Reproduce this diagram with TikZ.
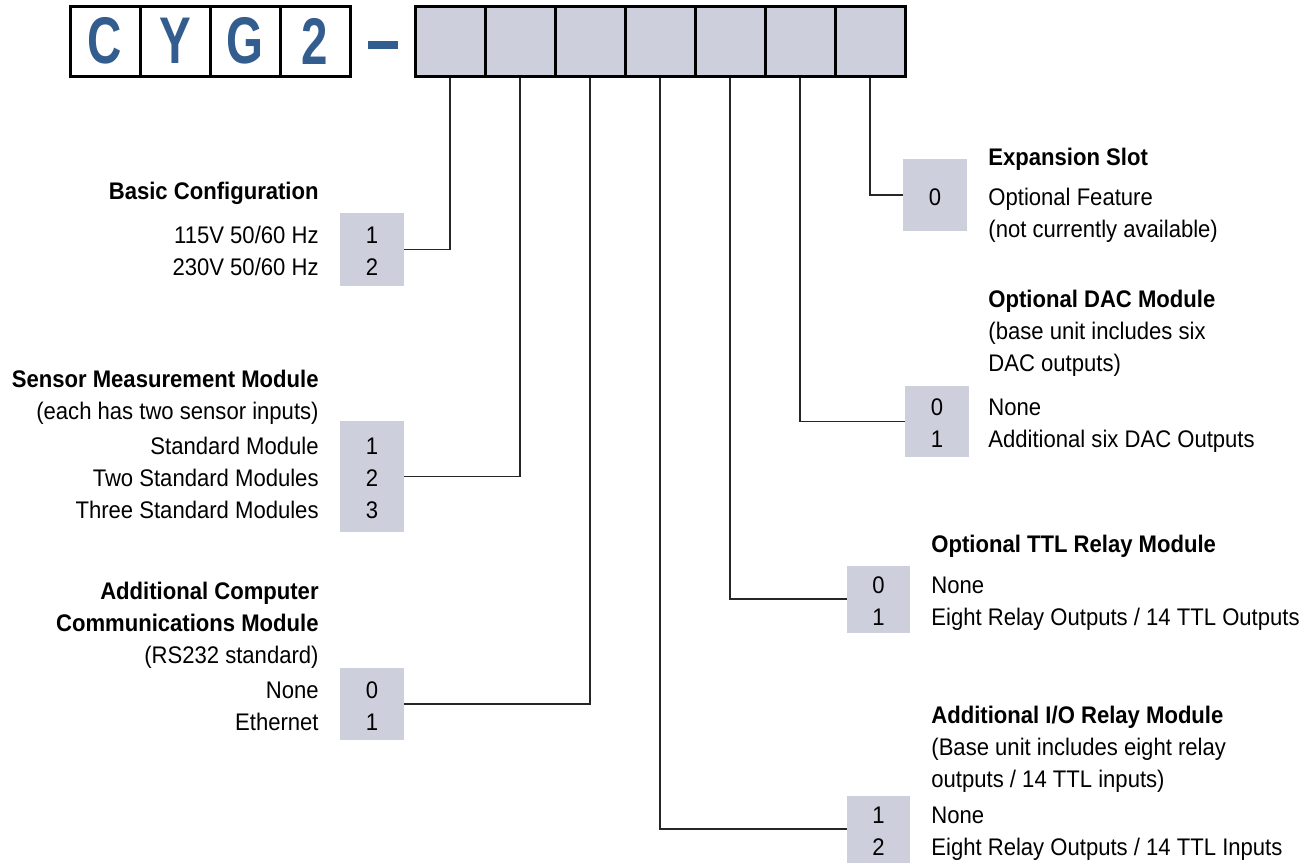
\documentclass[tikz,border=0pt]{standalone}
\usepackage{fontspec}
\setmainfont{Liberation Sans}[FakeStretch=0.92]
\newfontfamily\codefont{Liberation Sans}[FakeStretch=0.72]
\newcommand{\txtsize}{\fontsize{24}{32}\selectfont}
\newcommand{\lstrut}{\rule[-6pt]{0pt}{32pt}}
\newcommand{\mtitle}[1]{{\bfseries #1}}
\definecolor{BLUE}{HTML}{335C8F}
\definecolor{SLATE}{HTML}{CDD0DC}
\usetikzlibrary{positioning,calc}

\begin{document}
\begin{tikzpicture}
[x=1pt, y=-1pt, font=\txtsize,
letter/.style={rectangle, draw=black, line width=3pt, fill=white, minimum size=70pt,
inner sep=0pt, text=BLUE, font=\codefont\fontsize{66}{66}\selectfont\bfseries},
slot/.style={rectangle, draw=black, line width=3pt, fill=SLATE, minimum size=70pt, inner sep=0pt},
optbox/.style={rectangle, fill=SLATE, minimum width=64pt, inner sep=0pt, align=center,
execute at end node=\lstrut},
opttext/.style={inner sep=0pt, execute at end node=\lstrut},
link/.style={line width=1.2pt, black!85}]
\useasboundingbox (0,0) rectangle (1311,863);

\foreach \ch [count=\i] in {C,Y,G,2}
  \node[letter] (c\i) at (35+70*\i,41) {\ch};
\node[fill=BLUE, minimum width=30pt, minimum height=8pt, inner sep=0pt] (dash) at (382.5,44.5) {};
\foreach \i in {1,...,7}
  \node[slot] (s\i) at (380+70*\i,41) {};

\node[optbox, minimum height=73pt] (bopt) at (372,249.5) {\lstrut 1\\2};
\node[opttext, align=right, left=21pt of bopt] (btxt) {\lstrut 115V 50/60 Hz\\230V 50/60 Hz};
\node[opttext, align=right, above=12pt of btxt.north east, anchor=south east] (bhead)
  {\lstrut\mtitle{Basic Configuration}};

\node[optbox, minimum height=111pt] (sopt) at (372,476.5) {\lstrut 1\\2\\3};
\node[opttext, align=right, left=21pt of sopt] (stxt)
  {\lstrut Standard Module\\Two Standard Modules\\Three Standard Modules};
\node[opttext, align=right, above=3pt of stxt.north east, anchor=south east] (shead)
  {\lstrut\mtitle{Sensor Measurement Module}\\(each has two sensor inputs)};

\node[optbox, minimum height=72pt] (copt) at (372,704) {\lstrut 0\\1};
\node[opttext, align=right, left=21pt of copt] (ctxt) {\lstrut None\\Ethernet};
\node[opttext, align=right, above=2pt of ctxt.north east, anchor=south east] (chead)
  {\lstrut\mtitle{Additional Computer}\\\mtitle{Communications Module}\\(RS232 standard)};

\node[optbox, minimum height=72pt] (xopt) at (935,195) {\lstrut 0};
\node[opttext, align=left, right=21pt of xopt, yshift=-16pt] (xtxt)
  {\lstrut Optional Feature\\(not currently available)};
\node[opttext, align=left, above=7pt of xtxt.north west, anchor=south west] (xhead)
  {\lstrut\mtitle{Expansion Slot}};

\node[optbox, minimum height=71pt] (dopt) at (937,421.5) {\lstrut 0\\1};
\node[opttext, align=left, right=19pt of dopt] (dtxt) {\lstrut None\\Additional six DAC Outputs};
\node[opttext, align=left, above=12pt of dtxt.north west, anchor=south west] (dhead)
  {\lstrut\mtitle{Optional DAC Module}\\(base unit includes six\\DAC outputs)};

\node[optbox, minimum width=63pt, minimum height=67pt] (topt) at (878.5,599) {\lstrut 0\\1};
\node[opttext, align=left, right=21pt of topt] (ttxt)
  {\lstrut None\\Eight Relay Outputs / 14 TTL Outputs};
\node[opttext, align=left, above=8pt of ttxt.north west, anchor=south west] (thead)
  {\lstrut\mtitle{Optional TTL Relay Module}};

\node[optbox, minimum width=63pt, minimum height=67pt] (iopt) at (878.5,829) {\lstrut 1\\2};
\node[opttext, align=left, right=21pt of iopt] (itxt)
  {\lstrut None\\Eight Relay Outputs / 14 TTL Inputs};
\node[opttext, align=left, above=3pt of itxt.north west, anchor=south west] (ihead)
  {\lstrut\mtitle{Additional I/O Relay Module}\\(Base unit includes eight relay\\outputs / 14 TTL inputs)};

\draw[link] (bopt.east) -| (s1.south);
\draw[link] (sopt.east) -| (s2.south);
\draw[link] (copt.east) -| (s3.south);
\draw[link] (s4.south) |- (iopt.west);
\draw[link] (s5.south) |- (topt.west);
\draw[link] (s6.south) |- (dopt.west);
\draw[link] (s7.south) |- (xopt.west);

\end{tikzpicture}
\end{document}
